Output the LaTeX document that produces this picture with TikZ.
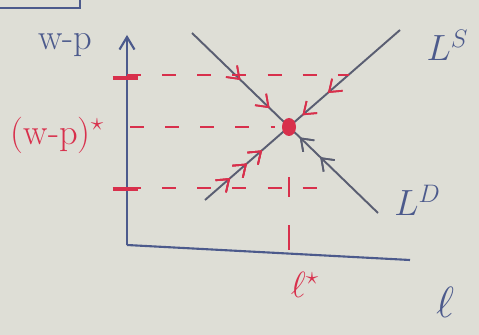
\documentclass[tikz,border=0pt]{standalone}
\usepackage{amsmath,amssymb}
\usepackage{tikz}
\usepackage{xcolor}
\usetikzlibrary{arrows.meta,decorations.markings}
\definecolor{board}{HTML}{DEDED6}
\definecolor{penblue}{HTML}{4C5A8C}
\definecolor{pengray}{HTML}{5A5E72}
\definecolor{penred}{HTML}{D8304C}

\begin{document}
\begin{tikzpicture}[
  every node/.style={font=\huge},
  axis/.style={penblue, line width=1.2pt},
  curve/.style={pengray, line width=1.1pt},
  level/.style={penred, line width=0.9pt, dash pattern=on 8pt off 12pt},
  marktick/.style={penred, line width=2.6pt},
  redflow/.style={postaction={decorate}, decoration={markings,
    mark=at position #1 with {\arrow[penred, line width=1pt]{Straight Barb[length=2.2mm, width=3.2mm]}}}},
  grayflow/.style={postaction={decorate}, decoration={markings,
    mark=at position #1 with {\arrow[pengray, line width=1pt]{Straight Barb[length=2.2mm, width=3.2mm]}}}},
]
% Board
\fill[board] (0,0) rectangle (9.58,-6.7);
\useasboundingbox (0,0) rectangle (9.58,-6.7);
\draw[axis] (0,-0.16) -- (1.6,-0.16) -- (1.6,0);

% Axes
\coordinate (O) at (2.54,-4.9);
\coordinate (ytop) at (2.54,-0.7);
\coordinate (xend) at (8.2,-5.2);
\draw[axis, -{Straight Barb[length=2.5mm, width=3mm]}] (O) -- (ytop);
\draw[axis] (O) -- (xend);

% Supply and demand
\coordinate (lsA) at (4.1,-4.0);
\coordinate (lsB) at (8.0,-0.6);
\coordinate (ldA) at (3.84,-0.66);
\coordinate (ldB) at (7.56,-4.26);
\coordinate (E) at (5.78,-2.54);
\draw[curve] (lsA) -- (lsB);
\draw[curve] (ldA) -- (ldB);

% Wage levels
\coordinate (hi) at (2.54,-1.5);
\coordinate (hiS) at (6.97,-1.5);
\coordinate (mid) at (2.6,-2.54);
\coordinate (midE) at (5.5,-2.54);
\coordinate (lo) at (2.54,-3.76);
\coordinate (loE) at (6.6,-3.76);
\draw[level] (hi) -- (hiS);
\draw[level] (mid) -- (midE);
\draw[level] (lo) -- (loE);
\draw[marktick] (2.25,-1.56) -- (2.75,-1.56);
\draw[marktick] (2.25,-3.78) -- (2.75,-3.78);
\draw[penred, line width=0.9pt] (5.78,-3.55) -- (5.78,-3.95);
\draw[penred, line width=0.9pt] (5.78,-4.5) -- (5.78,-5.0);

% Adjustment towards equilibrium
\path[redflow=0.5, redflow=0.8] (ldA) -- (E);
\path[redflow=0.65, redflow=0.88] (lsB) -- (E);
\path[redflow=0.3, redflow=0.5, redflow=0.68] (lsA) -- (E);
\path[grayflow=0.65, grayflow=0.88] (ldB) -- (E);
\fill[penred] (E) ellipse (0.14 and 0.18);

% Labels
\node[penblue] (wp) at (1.3,-0.9) {w-p};
\node[penred] (wpstar) at (1.15,-2.7) {(w-p)$^{\star}$};
\node[penblue] (LS) at (8.95,-0.9) {$L^{S}$};
\node[penblue] (LD) at (8.35,-4.0) {$L^{D}$};
\node[penred] (lstar) at (6.1,-5.7) {$\ell^{\star}$};
\node[penblue, font=\Huge] (ell) at (8.9,-6.05) {$\ell$};
\end{tikzpicture}
\end{document}
